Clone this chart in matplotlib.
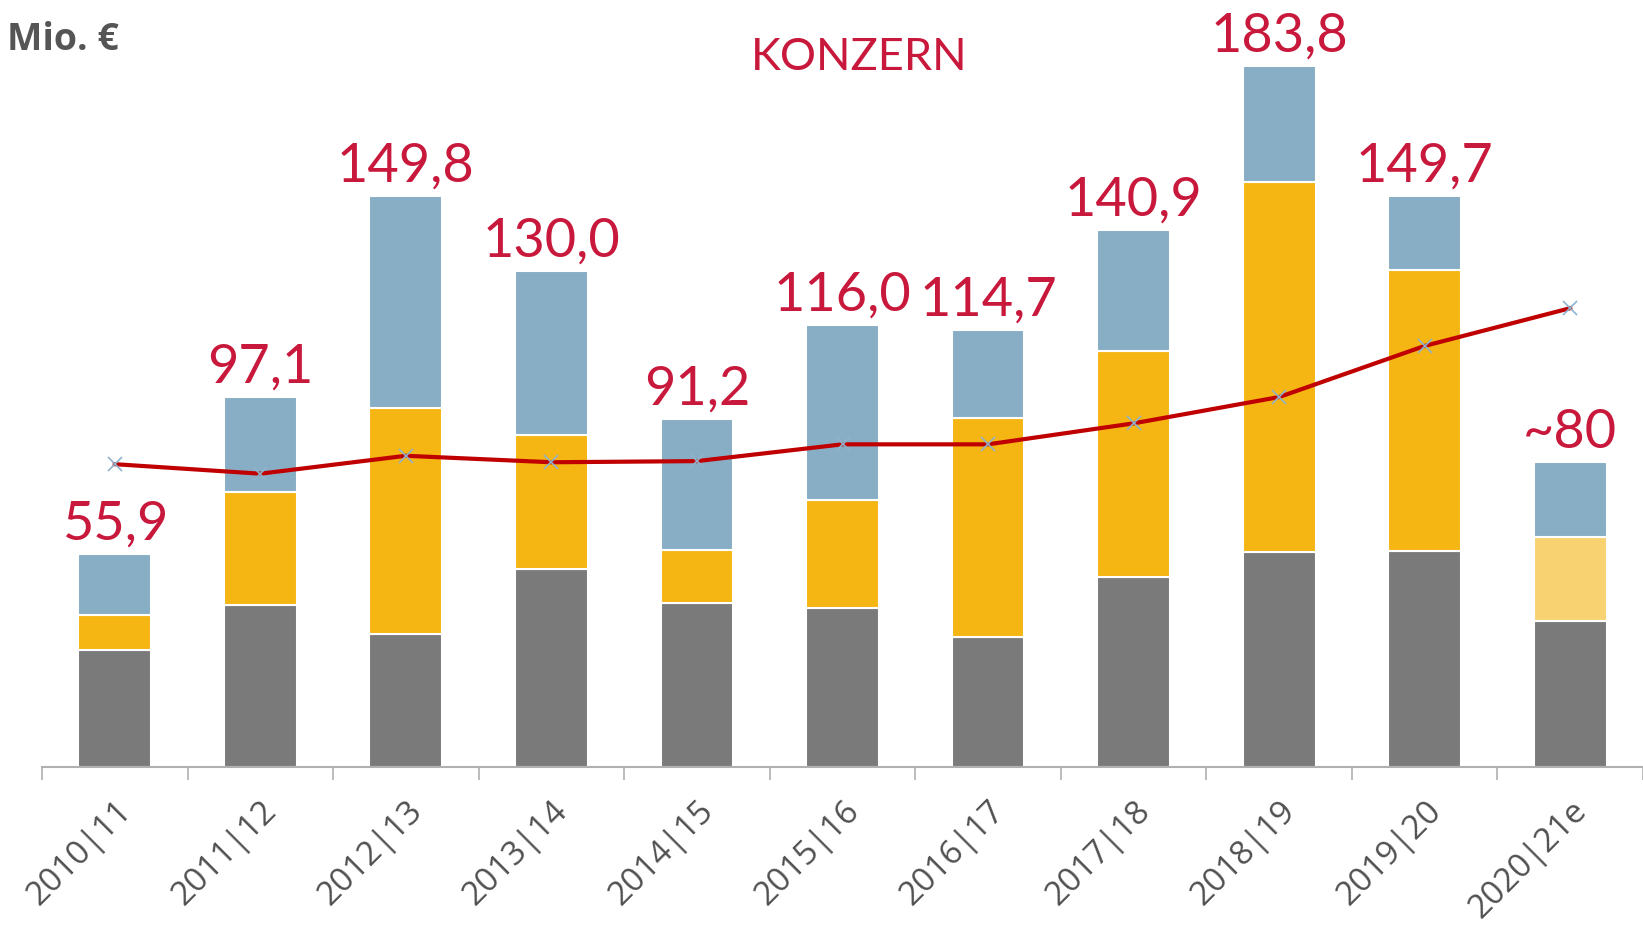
import numpy as np
import matplotlib
matplotlib.use('Agg')
from matplotlib import pyplot as plt

# data (Mio. €)
years = ['2010|11', '2011|12', '2012|13', '2013|14', '2014|15', '2015|16',
         '2016|17', '2017|18', '2018|19', '2019|20', '2020|21e']
grey = [30.8, 42.6, 34.9, 51.9, 43.1, 41.8, 34.1, 49.7, 56.3, 56.6, 38.2]
yellow = [9.0, 29.4, 59.1, 35.2, 13.8, 28.3, 57.4, 59.4, 97.0, 73.6, 22.0]
blue = [16.1, 25.1, 55.8, 42.9, 34.3, 45.9, 23.2, 31.8, 30.5, 19.5, 19.8]
totals = [55.9, 97.1, 149.8, 130.0, 91.2, 116.0, 114.7, 140.9, 183.8, 149.7, 80]
total_labels = ['55,9', '97,1', '149,8', '130,0', '91,2', '116,0', '114,7',
                '140,9', '183,8', '149,7', '~80']
line = [79.4, 76.9, 81.6, 79.9, 80.2, 84.6, 84.6, 90.1, 97.0, 110.4, 120.3]

c_grey = '#7a7a7a'
c_yellow = '#f5b512'
c_yellow_est = '#f8d271'
c_blue = '#87aec5'
c_red = '#c8193c'
c_line = '#c00000'

fig = plt.figure(figsize=(16.43, 9.29), dpi=100)
ax = fig.add_axes([42 / 1643, (929 - 768) / 929, 1 - 42 / 1643, 768 / 929])

x = np.arange(len(years))
w = 0.5
ycols = [c_yellow] * (len(years) - 1) + [c_yellow_est]
grey = np.array(grey)
yellow = np.array(yellow)
blue = np.array(blue)
ax.bar(x, grey, w, color=c_grey, edgecolor='white', linewidth=1.5, zorder=2)
ax.bar(x, yellow, w, bottom=grey, color=ycols, edgecolor='white', linewidth=1.5, zorder=2)
ax.bar(x, blue, w, bottom=grey + yellow, color=c_blue, edgecolor='white', linewidth=1.5, zorder=2)

ax.plot(x, line, color=c_line, lw=3, zorder=3)
ax.plot(x, line, ls='none', marker='x', ms=10, mew=1.2, color='#8fb3cc', zorder=4)

tops = grey + yellow + blue
for xi, t, lab in zip(x, tops, total_labels):
    ax.annotate(lab, (xi, t), xytext=(0, 11), textcoords='offset points',
                ha='center', va='baseline', fontsize=39, color=c_red,
                family='Lato')

ax.set_xlim(-0.5, len(years) - 0.5)
ax.set_ylim(0, 768 / 3.814)

for s in ['top', 'right', 'left']:
    ax.spines[s].set_visible(False)
ax.spines['bottom'].set_color('#b0b0b0')
ax.spines['bottom'].set_linewidth(1.5)
ax.set_yticks([])

ax.set_xticks(x)
ax.set_xticklabels(years, rotation=45, ha='right', rotation_mode='anchor',
                   fontsize=24, color='#505050', family='Open Sans')
ax.tick_params(axis='x', which='major', length=0, pad=19)
ax.set_xticks(np.arange(-0.5, len(years)), minor=True)
ax.tick_params(axis='x', which='minor', length=9, width=1.2, color='#b0b0b0')

fig.text(7 / 1643, 1 - 50 / 929, 'Mio. €', fontsize=27, fontweight='bold',
         color='#555555', family='Open Sans', va='baseline')
fig.text(859 / 1643, 1 - 70 / 929, 'KONZERN', fontsize=32.5, color=c_red,
         family='Lato', ha='center', va='baseline')

fig.savefig('out.png', dpi=100)
